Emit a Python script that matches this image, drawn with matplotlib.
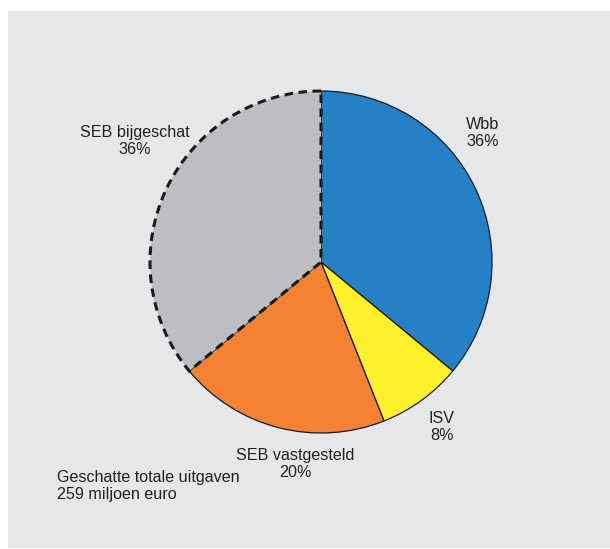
import matplotlib
matplotlib.use("Agg")
import matplotlib.pyplot as plt
from matplotlib.patches import Rectangle
from matplotlib import font_manager

W, H = 610, 549

labels = ["Wbb", "ISV", "SEB vastgesteld", "SEB bijgeschat"]
shares = [36, 8, 20, 36]
colors = ["#2580c6", "#fff22d", "#f58233", "#bdbec1"]

note_lines = ["Geschatte totale uitgaven", "259 miljoen euro"]

names = {f.name for f in font_manager.fontManager.ttflist}
if "Liberation Sans Narrow" in names:
    family, fs = ["Liberation Sans Narrow"], 12.6
else:
    family, fs = ["Liberation Sans"], 11.6
plt.rcParams["font.family"] = family + ["DejaVu Sans"]

fig = plt.figure(figsize=(W / 100, H / 100), dpi=100)
ax = fig.add_axes([0, 0, 1, 1])

# grey panel
ax.add_patch(Rectangle((8, 1), W - 8, H - 12, facecolor="#e6e7e9", edgecolor="none", zorder=0))

cx, cy = 321, H - 262
wedges, _ = ax.pie(shares, colors=colors, startangle=90, counterclock=False,
                   center=(cx, cy), radius=171, frame=True,
                   wedgeprops=dict(edgecolor="#1a1a1a", linewidth=0.9))
ax.set_xlim(0, W)
ax.set_ylim(0, H)
ax.axis("off")

# estimated part: dashed outline
gray = wedges[3]
gray.set_linestyle((0, (2.8, 1.8)))
gray.set_linewidth(2.2)
gray.set_edgecolor("#1a1a1a")
gray.set_zorder(5)

tc = "#231f20"
ls = 1.2
# y = baseline of the last line (image pixels from top)
ax.text(466, H - 146, f"{labels[0]}\n{shares[0]}%", ha="left", va="baseline",
        fontsize=fs, color=tc, linespacing=ls, multialignment="left")
ax.text(429, H - 440, f"{labels[1]}\n{shares[1]}%", ha="left", va="baseline",
        fontsize=fs, color=tc, linespacing=ls, multialignment="center")
ax.text(295, H - 477, f"{labels[2]}\n{shares[2]}%", ha="center", va="baseline",
        fontsize=fs, color=tc, linespacing=ls, multialignment="center")
ax.text(135, H - 154, f"{labels[3]}\n{shares[3]}%", ha="center", va="baseline",
        fontsize=fs, color=tc, linespacing=ls, multialignment="center")
ax.text(57, H - 499, "\n".join(note_lines), ha="left", va="baseline",
        fontsize=fs, color=tc, linespacing=ls)

fig.savefig("out.png", dpi=100, facecolor="white")
